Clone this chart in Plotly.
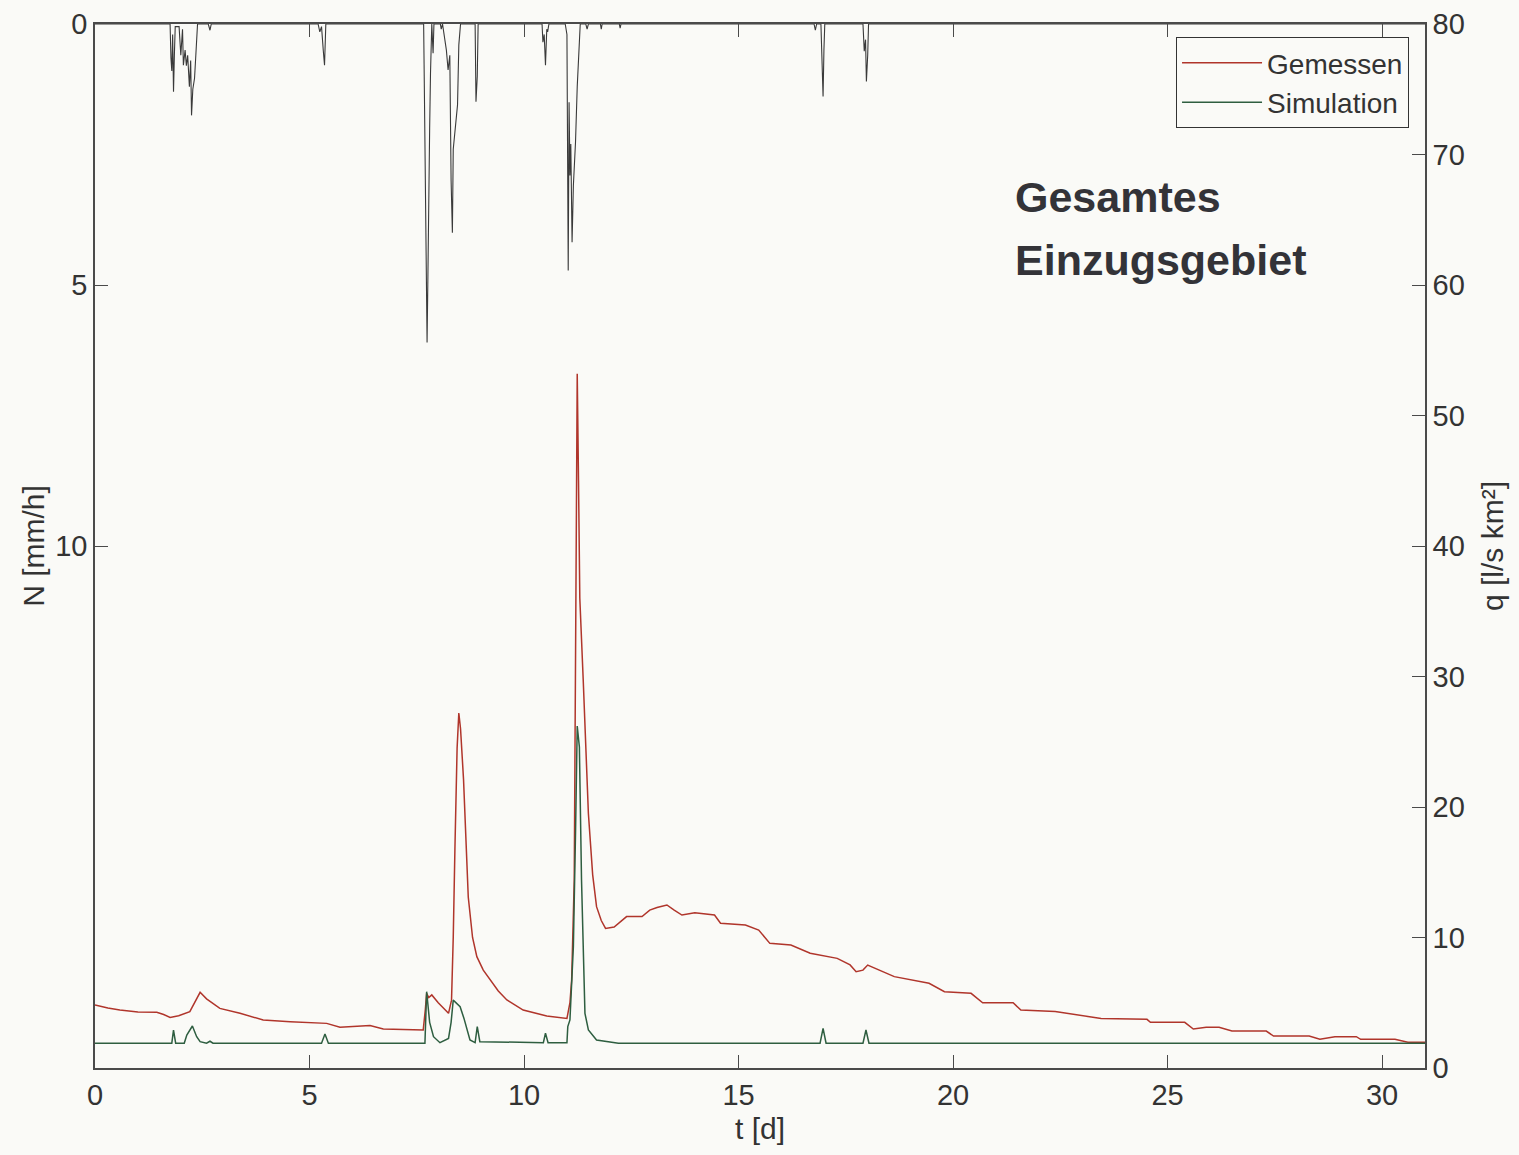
import plotly.graph_objects as go

# ---------------- data ----------------
# Niederschlag N [mm/h] (left axis, reversed)
rain_t = [0.0, 1.75, 1.77, 1.79, 1.81, 1.83, 1.85, 1.87, 1.96, 2.0, 2.04, 2.06, 2.1, 2.13, 2.16, 2.2, 2.23, 2.25, 2.28, 2.32, 2.35, 2.39,
          2.64, 2.68, 2.71,
          5.2, 5.24, 5.28, 5.32, 5.35, 5.38,
          7.66, 7.68, 7.72, 7.74, 7.76, 7.78, 7.8, 7.82, 7.85, 7.88, 7.9,
          8.05, 8.07, 8.1, 8.19, 8.23, 8.27, 8.3, 8.33, 8.35, 8.38, 8.4, 8.45, 8.48, 8.52,
          8.86, 8.88, 8.91, 8.93,
          10.42, 10.44, 10.47, 10.5, 10.53, 10.55, 10.58,
          10.96, 11.0, 11.03, 11.05, 11.07, 11.09, 11.12, 11.15, 11.2, 11.24, 11.28, 11.31,
          11.44, 11.47, 11.5, 11.78, 11.8, 11.82, 12.22, 12.24, 12.26,
          16.76, 16.79, 16.82, 16.92, 16.94, 16.97, 16.99, 17.01,
          17.9, 17.93, 17.96, 17.98, 18.01, 18.03, 31.0]
rain_n = [0.0, 0.0, 0.65, 0.9, 0.2, 1.3, 0.6, 0.05, 0.05, 0.6, 0.1, 0.79, 0.5, 0.8, 0.6, 1.2, 0.7, 1.75, 1.25, 1.04, 0.6, 0.0,
          0.0, 0.12, 0.0,
          0.0, 0.15, 0.05, 0.5, 0.79, 0.0,
          0.0, 1.49, 4.6, 6.1, 4.8, 2.5, 2.0, 0.95, 0.0, 0.56, 0.0,
          0.0, 0.1, 0.0, 0.5, 0.88, 0.6, 3.0, 4.0, 2.4, 2.1, 1.9, 1.55, 0.4, 0.0,
          0.0, 1.49, 1.0, 0.0,
          0.0, 0.35, 0.2, 0.79, 0.1, 0.15, 0.0,
          0.0, 0.2, 4.72, 1.5, 2.9, 2.3, 4.18, 3.1, 2.26, 1.2, 0.4, 0.0,
          0.0, 0.1, 0.0, 0.0, 0.1, 0.0, 0.0, 0.08, 0.0,
          0.0, 0.12, 0.0, 0.0, 0.56, 1.39, 0.5, 0.0,
          0.0, 0.52, 0.3, 1.1, 0.6, 0.0, 0.0]

# Abfluss gemessen q [l/s km²]
meas_t = [0.0, 0.3, 0.58, 1.0, 1.44, 1.6, 1.75, 1.95, 2.21, 2.3, 2.45, 2.6, 2.91, 3.38, 3.92, 4.55, 5.0, 5.4, 5.71, 6.1, 6.41, 6.72,
          7.2, 7.65, 7.7, 7.73, 7.78, 7.85, 8.0, 8.24, 8.31, 8.35, 8.39, 8.44, 8.48, 8.52, 8.59, 8.7, 8.8, 8.9, 9.05, 9.21, 9.4,
          9.6, 9.98, 10.53, 11.0, 11.07, 11.11, 11.17, 11.21, 11.24, 11.27, 11.3, 11.38, 11.5, 11.6, 11.69, 11.8, 11.9, 12.1,
          12.39, 12.75, 12.93, 13.1, 13.33, 13.5, 13.68, 13.98, 14.3, 14.44, 14.58, 15.16, 15.47, 15.73, 16.22, 16.67, 17.3,
          17.6, 17.74, 17.9, 18.01, 18.63, 19.44, 19.8, 20.42, 20.69, 21.4, 21.58, 22.38, 23.45, 24.52, 24.6, 25.4, 25.6,
          25.9, 26.2, 26.5, 27.3, 27.47, 27.8, 28.3, 28.55, 28.9, 29.4, 29.5, 30.3, 30.6, 31.0]
meas_q = [4.83, 4.6, 4.45, 4.3, 4.27, 4.1, 3.88, 4.0, 4.32, 4.9, 5.8, 5.3, 4.57, 4.19, 3.68, 3.55, 3.5, 3.42, 3.12, 3.17, 3.25, 2.99,
          2.95, 2.91, 4.5, 5.72, 5.4, 5.6, 5.0, 4.19, 5.2, 10.0, 16.96, 24.5, 27.2, 26.0, 22.1, 13.1, 10.0, 8.53, 7.5, 6.74, 5.9,
          5.21, 4.44, 3.98, 3.8, 5.0, 6.74, 14.4, 35.0, 53.2, 45.0, 36.0, 29.7, 19.5, 14.8, 12.36, 11.3, 10.7, 10.8,
          11.6, 11.6, 12.1, 12.3, 12.49, 12.1, 11.72, 11.9, 11.8, 11.72, 11.09, 10.96, 10.57, 9.55, 9.43, 8.79, 8.4,
          7.9, 7.38, 7.5, 7.89, 7.0, 6.49, 5.85, 5.72, 5.0, 5.0, 4.44, 4.32, 3.8, 3.73, 3.5, 3.5, 2.99,
          3.12, 3.12, 2.83, 2.83, 2.45, 2.45, 2.45, 2.2, 2.4, 2.4, 2.2, 2.2, 1.97, 1.97]

# Abfluss simuliert q [l/s km²]
sim_t = [0.0, 1.79, 1.83, 1.88, 2.08, 2.14, 2.27, 2.37, 2.45, 2.6, 2.68, 2.75,
         5.28, 5.36, 5.44, 7.69, 7.73, 7.8, 7.89, 8.04, 8.24, 8.3, 8.35, 8.45, 8.51, 8.6, 8.74, 8.86, 8.91, 8.97,
         10.45, 10.5, 10.56, 11.0, 11.02, 11.07, 11.15, 11.2, 11.24, 11.29, 11.34, 11.42, 11.5, 11.69, 12.0, 12.2,
         16.9, 16.97, 17.04, 17.9, 17.97, 18.04, 31.0]
sim_q = [1.9, 1.9, 2.9, 1.9, 1.9, 2.53, 3.22, 2.4, 2.02, 1.9, 2.05, 1.9,
         1.9, 2.6, 1.9, 1.9, 5.85, 3.5, 2.4, 1.94, 2.27, 3.5, 5.2, 4.9, 4.7, 3.8, 2.15, 1.94, 3.17, 2.02,
         1.94, 2.66, 1.94, 1.94, 3.17, 3.68, 9.3, 18.0, 26.2, 24.6, 14.4, 4.19, 2.91, 2.15, 2.0, 1.9,
         1.9, 3.04, 1.9, 1.9, 2.91, 1.9, 1.9]

x_ticks = [0, 5, 10, 15, 20, 25, 30]
n_ticks = [0, 5, 10]
q_ticks = [0, 10, 20, 30, 40, 50, 60, 70, 80]

# ---------------- figure ----------------
FONT = "Liberation Sans, Arial, sans-serif"
AX = "#4a4a4a"
TXT = "#333333"
TICKF = dict(size=29, color=TXT)
TITLEF = dict(size=30, color=TXT)

fig = go.Figure()
fig.add_trace(go.Scatter(x=rain_t, y=rain_n, mode="lines", yaxis="y",
                         line=dict(color="#3a3a3a", width=1.1), showlegend=False, name="N"))
fig.add_trace(go.Scatter(x=meas_t, y=meas_q, mode="lines", yaxis="y2",
                         line=dict(color="#b0352b", width=1.5), name="Gemessen"))
fig.add_trace(go.Scatter(x=sim_t, y=sim_q, mode="lines", yaxis="y2",
                         line=dict(color="#2e5e40", width=1.5), name="Simulation"))

fig.update_layout(
    width=1519, height=1155,
    margin=dict(l=95, r=94, t=24, b=87, autoexpand=False),
    paper_bgcolor="#fafaf7", plot_bgcolor="#fafaf7",
    font=dict(family=FONT, size=28, color=TXT),
    xaxis=dict(range=[0, 31], tickvals=x_ticks, ticks="inside", ticklen=13, tickcolor=AX,
               tickfont=TICKF, automargin=False,
               showline=True, linecolor=AX, linewidth=1.5, mirror="ticks", showgrid=False, zeroline=False,
               title=dict(text="t [d]", standoff=8, font=TITLEF)),
    yaxis=dict(range=[20, 0], tickvals=n_ticks, ticks="inside", ticklen=13, tickcolor=AX,
               tickfont=TICKF, automargin=False,
               showline=True, linecolor=AX, linewidth=1.5, showgrid=False, zeroline=False,
               title=dict(text="N [mm/h]", standoff=2, font=TITLEF)),
    yaxis2=dict(range=[0, 80], tickvals=q_ticks, ticks="inside", ticklen=13, tickcolor=AX,
                tickfont=TICKF, automargin=False,
                overlaying="y", side="right", anchor="x",
                showline=True, linecolor=AX, linewidth=1.5, showgrid=False, zeroline=False,
                title=dict(text="q [l/s km²]", standoff=18, font=TITLEF)),
    legend=dict(x=0.988, y=0.9875, xanchor="right", yanchor="top",
                bgcolor="#fafaf7", bordercolor="#333333", borderwidth=1,
                font=dict(size=28, color=TXT), tracegroupgap=0, itemwidth=80),
    annotations=[
        dict(x=0.69, y=0.834, xref="paper", yref="paper", xanchor="left", yanchor="middle",
             showarrow=False, text="<b>Gesamtes</b>",
             font=dict(size=43, color="#333338", family=FONT)),
        dict(x=0.69, y=0.774, xref="paper", yref="paper", xanchor="left", yanchor="middle",
             showarrow=False, text="<b>Einzugsgebiet</b>",
             font=dict(size=43, color="#333338", family=FONT)),
    ],
)

fig.write_html("out.html")
